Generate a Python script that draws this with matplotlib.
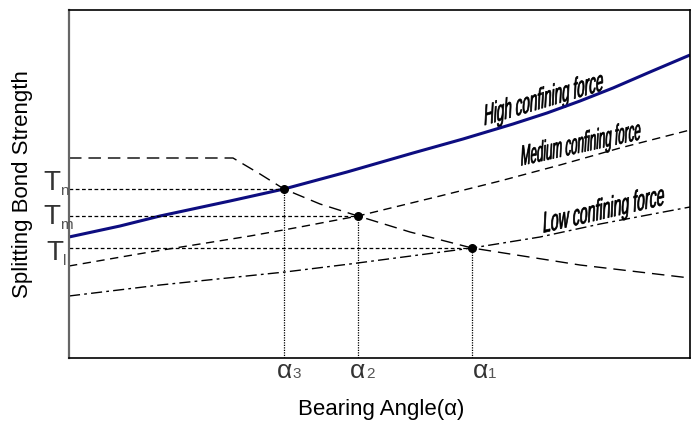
import matplotlib.pyplot as plt
from matplotlib.textpath import TextPath
from matplotlib.patches import PathPatch
from matplotlib.font_manager import FontProperties
from matplotlib.transforms import Affine2D

plt.rcParams['font.family'] = ['Liberation Sans', 'DejaVu Sans']

W, H = 694, 425
AX_L, AX_T, AX_R, AX_B = 69, 10, 690, 358

# curves in pixel units (x right, y up from axis bottom)
high_x = [0, 51, 91, 161, 215, 278, 344, 394, 444, 478, 511, 544, 581, 621]
high_y = [121, 132, 142, 157, 169, 186, 205, 219, 234, 245, 257, 270, 286, 303]
med_x = [0, 81, 181, 231, 289, 371, 431, 491, 551, 621]
med_y = [92, 106, 122, 131, 142, 162, 177, 193, 210, 228]
low_x = [0, 91, 216, 281, 403, 471, 531, 621]
low_y = [62, 73, 86, 94, 110, 121, 134, 151]
dem_x = [0, 164, 191, 215, 251, 289, 341, 403, 511, 621]
dem_y = [200, 200, 184, 169, 154, 142, 126, 110, 93, 80]

# intersection points (alpha3, alpha2, alpha1)
pt_x = [215, 289, 403]
pt_y = [169, 142, 110]
pt_names = ['3', '2', '1']
t_names = ['n', 'm', 'l']

curve_labels = ['High confining force', 'Medium confining force', 'Low confining force']

fig = plt.figure(figsize=(W / 100, H / 100), dpi=100)
ax = fig.add_axes([AX_L / W, 1 - AX_B / H, (AX_R - AX_L) / W, (AX_B - AX_T) / H])
ax.set_xlim(0, AX_R - AX_L)
ax.set_ylim(0, AX_B - AX_T)
ax.set_xticks([])
ax.set_yticks([])
for s in ['top', 'right', 'bottom']:
    ax.spines[s].set_color('black')
    ax.spines[s].set_linewidth(1.2)
ax.spines['left'].set_color('#666666')
ax.spines['left'].set_linewidth(1.6)

ax.plot(high_x, high_y, color='#0d0d80', lw=2.2, solid_capstyle='butt')
ax.plot(med_x, med_y, color='black', lw=1.0, dashes=(6, 4))
ax.plot(low_x, low_y, color='black', lw=1.0, dashes=(8, 3, 2, 3))
ax.plot(dem_x, dem_y, color='black', lw=1.0, dashes=(9, 5))

for x, y in zip(pt_x, pt_y):
    ax.plot([0, x], [y, y], color='black', lw=0.9, dashes=(3, 2))
    ax.plot([x, x], [0, y], color='black', lw=0.9, dashes=(1, 1))
ax.scatter(pt_x, pt_y, s=30, color='black', zorder=5)


def narrow_text(ax, s, xy, size, angle, xscale):
    """ Draws a squeezed, sheared text 's' centred on 'xy' (data = pixels). """
    tp = TextPath((0, 0), s, size=size, prop=FontProperties(family='Liberation Sans'))
    bb = tp.get_extents()
    tr = (Affine2D().translate(-(bb.x0 + bb.x1) / 2, -(bb.y0 + bb.y1) / 2)
          .scale(xscale, 1).skew_deg(3, angle).translate(*xy))
    ax.add_patch(PathPatch(tr.transform_path(tp), fc='black', ec='black', lw=0.5))


# curve labels: centre, em size in px, slope, squeeze
narrow_text(ax, curve_labels[0], (475, 258), 30, 16.5, 0.45)
narrow_text(ax, curve_labels[1], (512, 213), 29, 12.4, 0.40)
narrow_text(ax, curve_labels[2], (535, 147), 30, 13.0, 0.47)


def fpx(x, y):
    return x / W, 1 - y / H


# T labels on the left
t_pos = [(52, 183), (52, 217), (55, 253)]
for (x, y), n in zip(t_pos, t_names):
    fig.text(*fpx(x, y), 'T', fontsize=20, color='#333333', ha='center', va='center')
    fig.text(*fpx(x + 8, y + 8), n, fontsize=11, color='#555555', ha='left', va='center')

# alpha labels under the axis
a_pos = [(284, 371), (358, 371), (480, 371)]
for (x, y), n in zip(a_pos, pt_names):
    fig.text(*fpx(x, y), 'α', fontsize=19, color='#333333', ha='center', va='center')
    fig.text(*fpx(x + 8, y + 3), n, fontsize=11, color='#555555', ha='left', va='center')

fig.text(*fpx(381, 410), 'Bearing Angle(α)', fontsize=16, ha='center', va='center')
fig.text(*fpx(23, 184), 'Splitting Bond Strength', fontsize=16, rotation=90,
         ha='center', va='center')

fig.savefig('out.png', dpi=100)
